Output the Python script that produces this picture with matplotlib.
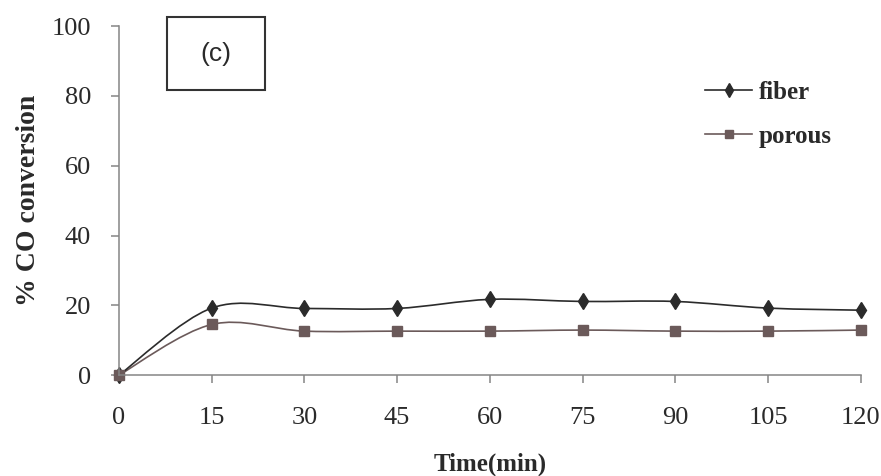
import matplotlib
matplotlib.use("Agg")
import matplotlib.pyplot as plt
from matplotlib.path import Path
from matplotlib.patches import PathPatch, Rectangle
from matplotlib.lines import Line2D

time_min = [0, 15, 30, 45, 60, 75, 90, 105, 120]
fiber = [0, 19.2, 19.1, 19.1, 21.7, 21.1, 21.1, 19.2, 18.6]
porous = [0, 14.5, 12.6, 12.6, 12.6, 12.9, 12.6, 12.6, 12.9]
yticks = [0, 20, 40, 60, 80, 100]
xticks = time_min

plt.rcParams["font.family"] = ["Liberation Serif", "DejaVu Serif"]


def smooth_path(x, y, t=0.5 / 3):
    # Excel-like smoothed line: cubic Bezier segments through each point
    verts = [(x[0], y[0])]
    codes = [Path.MOVETO]
    n = len(x)
    for i in range(n - 1):
        x0, y0 = (x[i - 1], y[i - 1]) if i > 0 else (x[i], y[i])
        x3, y3 = (x[i + 2], y[i + 2]) if i + 2 < n else (x[i + 1], y[i + 1])
        c1 = (x[i] + (x[i + 1] - x0) * t, y[i] + (y[i + 1] - y0) * t)
        c2 = (x[i + 1] - (x3 - x[i]) * t, y[i + 1] - (y3 - y[i]) * t)
        verts += [c1, c2, (x[i + 1], y[i + 1])]
        codes += [Path.CURVE4] * 3
    return Path(verts, codes)


fig = plt.figure(figsize=(8.81, 4.76), dpi=100)
ax = fig.add_axes([0.135, 0.212, 0.842, 0.733])

c_fib = "#2b2b2b"
c_por = "#6b5a5a"
ax.add_patch(PathPatch(smooth_path(time_min, porous), fc="none", ec=c_por, lw=1.2))
ax.add_patch(PathPatch(smooth_path(time_min, fiber), fc="none", ec=c_fib, lw=1.2))
ax.plot(time_min, fiber, ls="none", marker="d", ms=8, color=c_fib)
ax.plot(time_min, porous, ls="none", marker="s", ms=6.5, color=c_por)

ax.set_xlim(0, 120)
ax.set_ylim(0, 100)
ax.set_xticks(xticks)
ax.set_yticks(yticks)
for s in ["top", "right"]:
    ax.spines[s].set_visible(False)
for s in ["left", "bottom"]:
    ax.spines[s].set_color("#858585")
    ax.spines[s].set_linewidth(1.1)
ax.tick_params(axis="both", colors="#858585", labelcolor="#2a2a2a",
               labelsize=19, length=6, width=1.1, direction="out")
ax.tick_params(axis="x", pad=17)
ax.tick_params(axis="y", pad=14)
for ch in ax.get_children():
    ch.set_clip_on(False)

ax.set_ylabel("% CO conversion", fontsize=20, fontweight="bold", color="#2a2a2a")
ax.yaxis.set_label_coords(-0.105, 0.5)
ax.set_xlabel("Time(min)", fontsize=18, fontweight="bold", color="#2a2a2a")
ax.xaxis.set_label_coords(0.5, -0.221)

handles = [Line2D([], [], color=c_fib, marker="d", ms=7.5, lw=1.2),
           Line2D([], [], color=c_por, marker="s", ms=6, lw=1.2)]
ax.legend(handles, ["fiber", "porous"], loc="upper left",
          bbox_to_anchor=(0.790, 0.844), frameon=False, borderpad=0,
          borderaxespad=0, handlelength=1.9, handletextpad=0.24,
          labelspacing=0.84, labelcolor="#2a2a2a",
          prop={"weight": "bold", "size": 18})

ax.add_patch(Rectangle((0.0647, 0.8166), 0.1321, 0.2092, transform=ax.transAxes,
                       fc="white", ec="#333333", lw=1.5, clip_on=False, zorder=3))
ax.text(0.1307, 0.92, "(c)", transform=ax.transAxes, fontsize=19,
        family=["Liberation Sans", "DejaVu Sans"], color="#2a2a2a",
        ha="center", va="center", zorder=4)

fig.savefig("out.png", dpi=100)
